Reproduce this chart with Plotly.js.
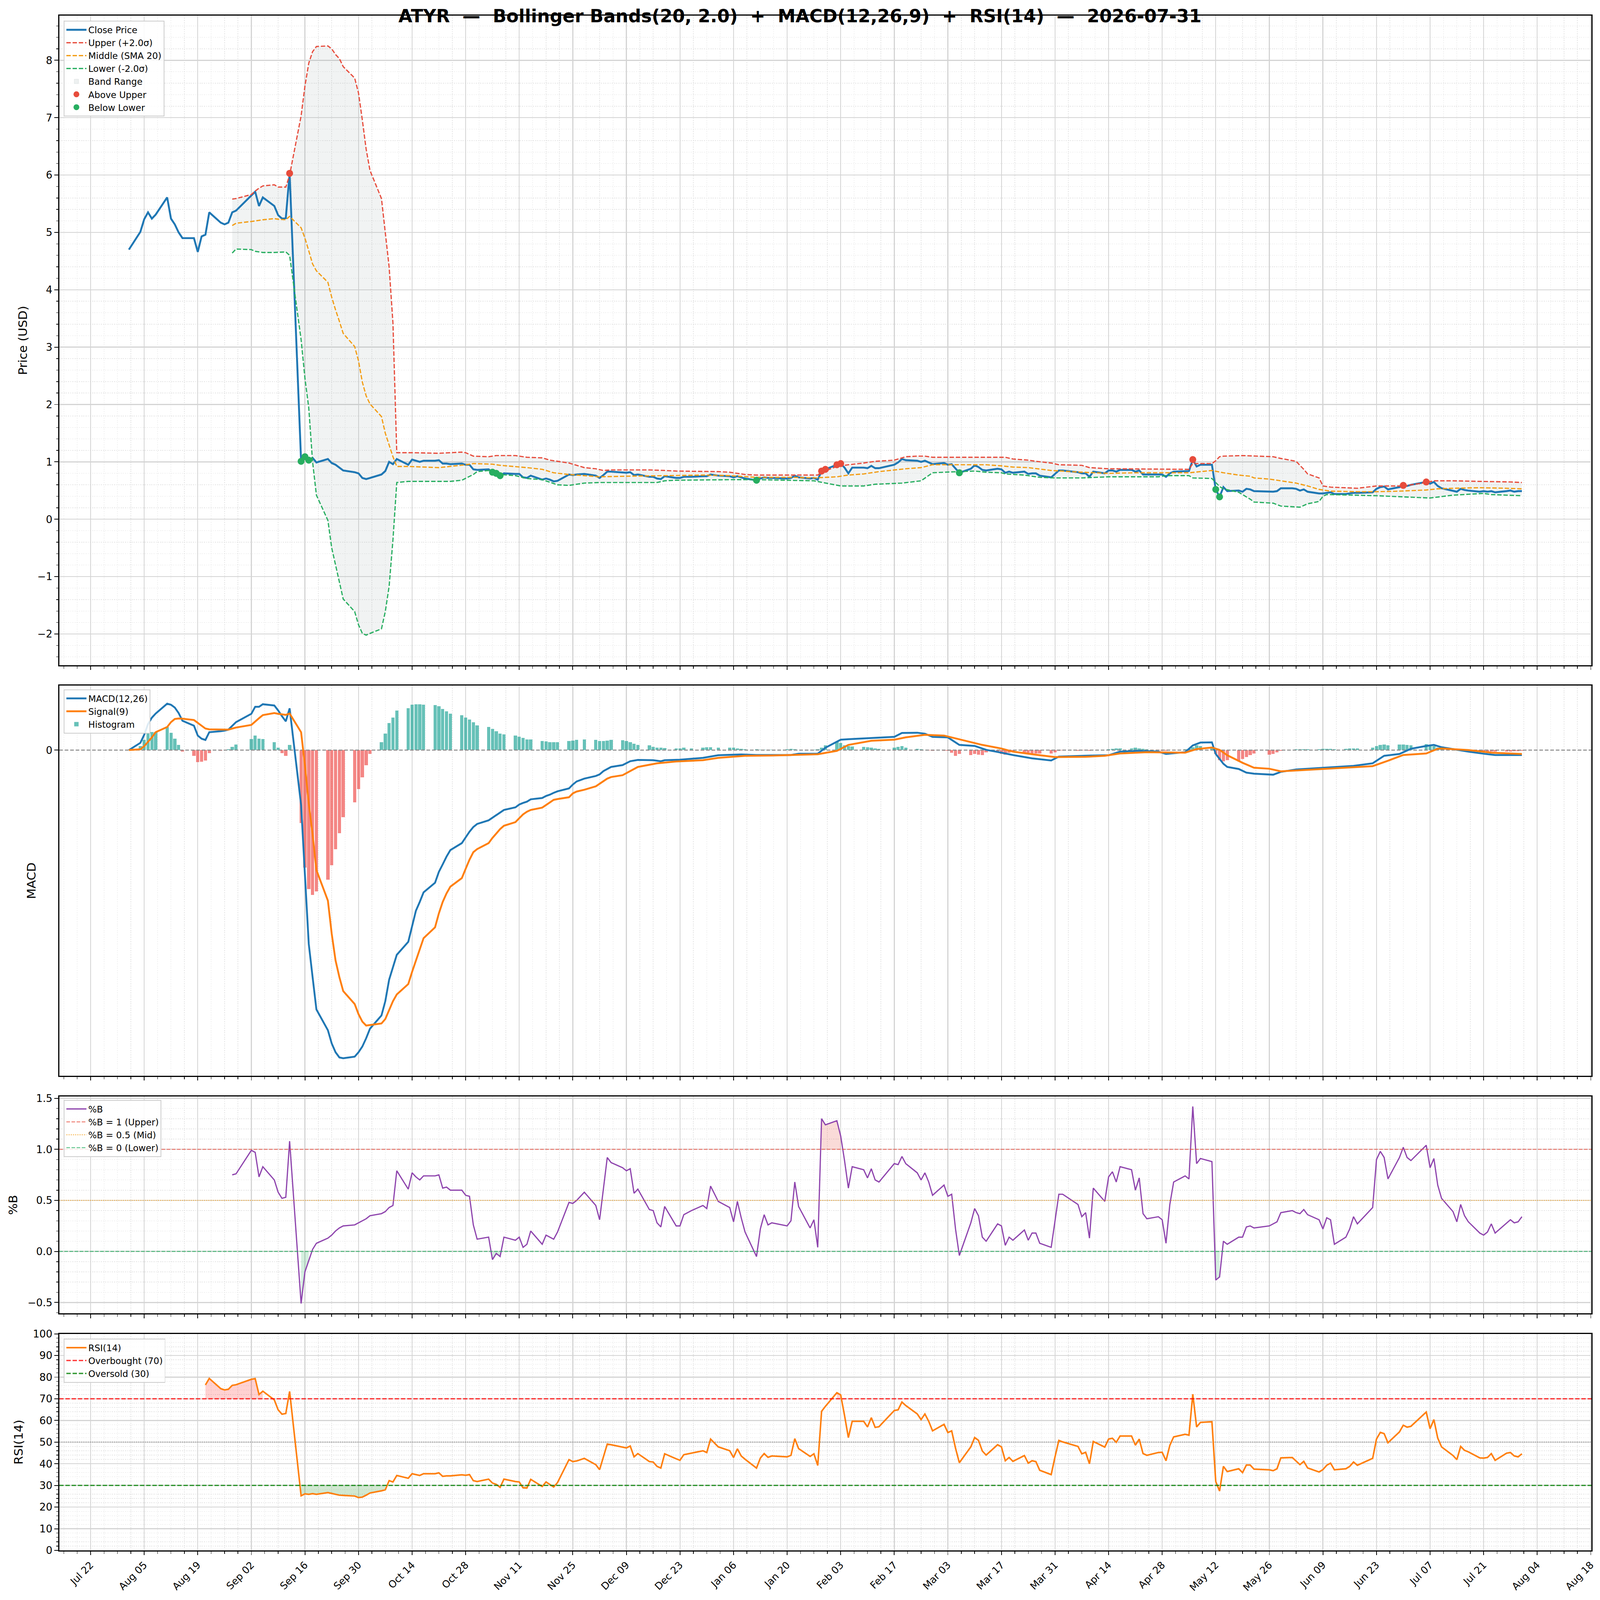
<!DOCTYPE html>
<html><head><meta charset="utf-8">
<script src="https://cdn.plot.ly/plotly-3.0.1.min.js"></script>
<style>html,body{margin:0;padding:0;background:#fff;overflow:hidden}#chart{transform-origin:0 0}</style>
</head><body><div id="chart" style="width:4378px;height:4322px"></div>
<script>
// ---------- DATA ----------
const closeData = [['08-01',4.70],['08-04',5.01],['08-05',5.23],['08-06',5.35],['08-07',5.24],['08-08',5.31],['08-11',5.61],['08-12',5.24],['08-13',5.14],['08-14',5.00],['08-15',4.90],['08-18',4.90],['08-19',4.66],['08-20',4.93],['08-21',4.96],['08-22',5.35],['08-25',5.17],['08-26',5.14],['08-27',5.17],['08-28',5.35],['08-29',5.38],['09-02',5.64],['09-03',5.71],['09-04',5.46],['09-05',5.61],['09-08',5.46],['09-09',5.30],['09-10',5.24],['09-11',5.25],['09-12',6.03],['09-15',1.01],['09-16',1.09],['09-17',1.03],['09-18',1.07],['09-19',0.99],['09-22',1.05],['09-23',0.98],['09-24',0.95],['09-25',0.90],['09-26',0.85],['09-29',0.82],['09-30',0.80],['10-01',0.72],['10-02',0.70],['10-03',0.72],['10-06',0.78],['10-07',0.84],['10-08',1.00],['10-09',0.96],['10-10',1.05],['10-13',0.95],['10-14',1.04],['10-15',1.02],['10-16',1.00],['10-17',1.02],['10-20',1.02],['10-21',1.03],['10-22',0.97],['10-23',0.97],['10-24',0.96],['10-27',0.97],['10-28',0.95],['10-29',0.95],['10-30',0.87],['10-31',0.86],['11-03',0.87],['11-04',0.82],['11-05',0.80],['11-06',0.76],['11-07',0.80],['11-10',0.79],['11-11',0.79],['11-12',0.73],['11-13',0.72],['11-14',0.76],['11-17',0.69],['11-18',0.71],['11-19',0.69],['11-20',0.66],['11-21',0.67],['11-24',0.78],['11-25',0.77],['11-26',0.78],['11-28',0.79],['12-01',0.76],['12-02',0.72],['12-03',0.77],['12-04',0.83],['12-05',0.83],['12-08',0.82],['12-09',0.81],['12-10',0.82],['12-11',0.77],['12-12',0.78],['12-15',0.74],['12-16',0.74],['12-17',0.71],['12-18',0.70],['12-19',0.75],['12-22',0.72],['12-23',0.72],['12-24',0.74],['12-26',0.74],['12-29',0.75],['12-30',0.75],['12-31',0.78],['01-02',0.76],['01-05',0.75],['01-06',0.73],['01-07',0.75],['01-08',0.73],['01-09',0.71],['01-12',0.68],['01-13',0.71],['01-14',0.73],['01-15',0.72],['01-16',0.72],['01-20',0.71],['01-21',0.72],['01-22',0.76],['01-23',0.73],['01-26',0.71],['01-27',0.72],['01-28',0.69],['01-29',0.84],['01-30',0.87],['02-02',0.95],['02-03',0.97],['02-04',0.90],['02-05',0.80],['02-06',0.90],['02-09',0.90],['02-10',0.89],['02-11',0.93],['02-12',0.89],['02-13',0.89],['02-17',0.95],['02-18',0.99],['02-19',1.05],['02-20',1.03],['02-23',1.02],['02-24',1.00],['02-25',1.02],['02-26',0.99],['02-27',0.96],['03-02',0.98],['03-03',0.95],['03-04',0.96],['03-05',0.88],['03-06',0.81],['03-09',0.88],['03-10',0.94],['03-11',0.91],['03-12',0.86],['03-13',0.85],['03-16',0.88],['03-17',0.87],['03-18',0.81],['03-19',0.83],['03-20',0.81],['03-23',0.83],['03-24',0.79],['03-25',0.80],['03-26',0.80],['03-27',0.76],['03-30',0.73],['03-31',0.79],['04-01',0.85],['04-02',0.85],['04-06',0.82],['04-07',0.80],['04-08',0.80],['04-09',0.74],['04-10',0.83],['04-13',0.80],['04-14',0.85],['04-15',0.85],['04-16',0.83],['04-17',0.86],['04-20',0.86],['04-21',0.83],['04-22',0.85],['04-23',0.78],['04-24',0.78],['04-27',0.78],['04-28',0.78],['04-29',0.74],['04-30',0.80],['05-01',0.83],['05-04',0.84],['05-05',0.84],['05-06',1.04],['05-07',0.92],['05-08',0.95],['05-11',0.95],['05-12',0.52],['05-13',0.39],['05-14',0.56],['05-15',0.49],['05-18',0.50],['05-19',0.48],['05-20',0.53],['05-21',0.52],['05-22',0.49],['05-26',0.48],['05-27',0.48],['05-28',0.49],['05-29',0.54],['06-01',0.54],['06-02',0.53],['06-03',0.50],['06-04',0.52],['06-05',0.48],['06-08',0.45],['06-09',0.45],['06-10',0.46],['06-11',0.47],['06-12',0.44],['06-15',0.44],['06-16',0.45],['06-17',0.46],['06-18',0.46],['06-22',0.47],['06-23',0.53],['06-24',0.56],['06-25',0.57],['06-26',0.52],['06-29',0.56],['06-30',0.59],['07-01',0.58],['07-02',0.60],['07-06',0.65],['07-07',0.62],['07-08',0.65],['07-09',0.58],['07-10',0.54],['07-13',0.50],['07-14',0.48],['07-15',0.53],['07-16',0.51],['07-17',0.50],['07-20',0.48],['07-21',0.49],['07-22',0.48],['07-23',0.49],['07-24',0.47],['07-27',0.49],['07-28',0.50],['07-29',0.48],['07-30',0.49],['07-31',0.49]];

const upperData = [['08-28',5.58],['08-29',5.59],['09-02',5.66],['09-03',5.72],['09-04',5.77],['09-05',5.81],['09-08',5.83],['09-09',5.79],['09-10',5.79],['09-11',5.79],['09-12',6.00],['09-15',7.03],['09-16',7.55],['09-17',7.95],['09-18',8.15],['09-19',8.24],['09-22',8.25],['09-23',8.20],['09-24',8.10],['09-25',8.03],['09-26',7.89],['09-29',7.69],['09-30',7.43],['10-01',6.96],['10-02',6.45],['10-03',6.08],['10-06',5.59],['10-07',5.01],['10-08',4.40],['10-09',3.42],['10-10',1.16],['10-13',1.16],['10-14',1.16],['10-21',1.15],['10-27',1.17],['10-28',1.16],['10-30',1.10],['11-03',1.09],['11-05',1.11],['11-10',1.11],['11-13',1.08],['11-17',1.07],['11-19',1.03],['11-24',0.98],['11-28',0.90],['12-01',0.88],['12-03',0.85],['12-05',0.86],['12-15',0.86],['12-19',0.85],['12-22',0.84],['01-02',0.83],['01-05',0.82],['01-09',0.78],['01-12',0.77],['01-28',0.77],['01-29',0.82],['02-02',0.92],['02-05',0.95],['02-09',0.98],['02-12',1.01],['02-17',1.03],['02-20',1.09],['02-23',1.10],['02-25',1.10],['02-27',1.08],['03-13',1.08],['03-18',1.08],['03-20',1.05],['03-24',1.03],['03-26',1.01],['03-30',0.98],['04-01',0.95],['04-07',0.94],['04-09',0.90],['04-14',0.88],['05-05',0.87],['05-06',0.97],['05-11',0.97],['05-12',1.02],['05-13',1.09],['05-14',1.10],['05-19',1.11],['05-27',1.09],['05-29',1.06],['06-02',1.01],['06-03',0.94],['06-04',0.87],['06-05',0.79],['06-08',0.72],['06-09',0.58],['06-11',0.56],['06-18',0.54],['06-23',0.58],['06-30',0.58],['07-06',0.64],['07-08',0.67],['07-13',0.67],['07-20',0.66],['07-28',0.65],['07-31',0.64]];

const middleData = [['08-28',5.12],['08-29',5.16],['09-02',5.19],['09-05',5.22],['09-08',5.24],['09-09',5.23],['09-11',5.22],['09-12',5.28],['09-15',5.08],['09-16',4.90],['09-17',4.68],['09-18',4.45],['09-19',4.33],['09-22',4.13],['09-23',3.87],['09-24',3.65],['09-25',3.45],['09-26',3.24],['09-29',3.01],['09-30',2.76],['10-01',2.39],['10-02',2.15],['10-03',2.01],['10-06',1.79],['10-07',1.50],['10-08',1.30],['10-09',1.09],['10-10',0.92],['10-13',0.92],['10-21',0.90],['10-24',0.92],['10-28',0.95],['10-30',0.97],['11-04',0.96],['11-06',0.94],['11-10',0.92],['11-13',0.90],['11-17',0.87],['11-20',0.81],['11-24',0.78],['11-28',0.76],['12-02',0.74],['12-09',0.75],['12-19',0.76],['12-29',0.77],['01-05',0.76],['01-12',0.73],['01-21',0.73],['01-27',0.72],['02-02',0.74],['02-05',0.77],['02-09',0.79],['02-13',0.83],['02-20',0.88],['02-24',0.90],['02-27',0.95],['03-13',0.95],['03-17',0.93],['03-20',0.91],['03-24',0.90],['03-30',0.85],['04-07',0.82],['04-14',0.80],['04-21',0.81],['05-05',0.81],['05-11',0.85],['05-14',0.81],['05-18',0.77],['05-21',0.75],['05-22',0.72],['05-26',0.70],['05-29',0.67],['06-02',0.63],['06-05',0.58],['06-08',0.52],['06-11',0.49],['06-18',0.48],['06-23',0.48],['06-29',0.49],['07-06',0.51],['07-09',0.53],['07-13',0.54],['07-20',0.55],['07-27',0.54],['07-31',0.53]];

const lowerData = [['08-28',4.64],['08-29',4.71],['09-02',4.70],['09-03',4.67],['09-05',4.65],['09-08',4.65],['09-11',4.66],['09-12',4.60],['09-15',3.13],['09-16',2.46],['09-17',1.94],['09-18',1.00],['09-19',0.42],['09-22',-0.02],['09-23',-0.50],['09-24',-0.80],['09-25',-1.10],['09-26',-1.39],['09-29',-1.61],['09-30',-1.84],['10-01',-1.99],['10-02',-2.02],['10-03',-1.99],['10-06',-1.91],['10-07',-1.61],['10-08',-1.17],['10-09',-0.36],['10-10',0.64],['10-13',0.66],['10-24',0.66],['10-27',0.68],['10-30',0.78],['10-31',0.83],['11-03',0.85],['11-04',0.84],['11-05',0.81],['11-06',0.78],['11-10',0.76],['11-13',0.71],['11-17',0.69],['11-21',0.60],['11-24',0.59],['11-28',0.63],['12-02',0.64],['12-17',0.64],['12-19',0.67],['12-22',0.68],['01-06',0.69],['01-12',0.69],['01-27',0.67],['01-30',0.63],['02-03',0.58],['02-09',0.58],['02-12',0.61],['02-19',0.63],['02-24',0.67],['02-27',0.81],['03-02',0.82],['03-10',0.84],['03-13',0.82],['03-17',0.81],['03-18',0.79],['03-23',0.77],['03-27',0.73],['03-31',0.72],['04-07',0.72],['04-14',0.74],['04-27',0.74],['04-29',0.76],['05-05',0.76],['05-06',0.72],['05-11',0.71],['05-12',0.64],['05-13',0.57],['05-14',0.53],['05-18',0.47],['05-21',0.35],['05-22',0.30],['05-27',0.28],['05-29',0.23],['06-03',0.21],['06-05',0.27],['06-08',0.31],['06-09',0.40],['06-10',0.43],['06-11',0.43],['06-23',0.41],['07-07',0.37],['07-13',0.42],['07-20',0.45],['07-21',0.45],['07-23',0.43],['07-31',0.41]];

const aboveUpperData = [['09-12',6.03],['01-29',0.84],['01-30',0.87],['02-02',0.95],['02-03',0.97],['05-06',1.04],['06-30',0.59],['07-06',0.65]];
const belowLowerData = [['09-15',1.01],['09-16',1.09],['09-17',1.03],['11-04',0.82],['11-05',0.80],['11-06',0.76],['01-12',0.68],['03-06',0.81],['05-12',0.52],['05-13',0.39]];

const macdData = [['08-01',0],['08-04',0.028],['08-05',0.059],['08-06',0.100],['08-07',0.125],['08-08',0.141],['08-11',0.179],['08-12',0.175],['08-13',0.164],['08-14',0.143],['08-15',0.113],['08-18',0.094],['08-19',0.056],['08-20',0.044],['08-21',0.039],['08-22',0.069],['08-25',0.073],['08-26',0.075],['08-27',0.079],['08-28',0.094],['08-29',0.108],['09-02',0.140],['09-03',0.167],['09-04',0.167],['09-05',0.177],['09-08',0.172],['09-09',0.153],['09-10',0.131],['09-11',0.111],['09-12',0.161],['09-15',-0.212],['09-16',-0.482],['09-17',-0.748],['09-18',-0.876],['09-19',-1.001],['09-22',-1.081],['09-23',-1.132],['09-24',-1.166],['09-25',-1.186],['09-26',-1.189],['09-29',-1.183],['09-30',-1.166],['10-01',-1.144],['10-02',-1.112],['10-03',-1.075],['10-06',-1.024],['10-07',-0.969],['10-08',-0.886],['10-09',-0.837],['10-10',-0.790],['10-13',-0.740],['10-14',-0.679],['10-15',-0.620],['10-16',-0.586],['10-17',-0.549],['10-20',-0.512],['10-21',-0.470],['10-22',-0.441],['10-23',-0.411],['10-24',-0.386],['10-27',-0.359],['10-28',-0.337],['10-29',-0.315],['10-30',-0.297],['10-31',-0.285],['11-03',-0.271],['11-04',-0.261],['11-05',-0.251],['11-06',-0.241],['11-07',-0.231],['11-10',-0.221],['11-11',-0.210],['11-12',-0.204],['11-13',-0.199],['11-14',-0.190],['11-17',-0.185],['11-18',-0.177],['11-19',-0.172],['11-20',-0.165],['11-21',-0.159],['11-24',-0.148],['11-25',-0.133],['11-26',-0.121],['11-28',-0.110],['12-01',-0.100],['12-02',-0.094],['12-03',-0.081],['12-04',-0.072],['12-05',-0.065],['12-08',-0.058],['12-10',-0.043],['12-12',-0.038],['12-16',-0.039],['12-18',-0.043],['12-19',-0.039],['12-23',-0.037],['12-26',-0.033],['12-29',-0.030],['01-02',-0.020],['01-05',-0.018],['01-08',-0.017],['01-12',-0.019],['01-16',-0.019],['01-21',-0.019],['01-23',-0.014],['01-28',-0.014],['01-30',0.009],['02-03',0.040],['02-05',0.042],['02-11',0.046],['02-13',0.049],['02-17',0.051],['02-19',0.066],['02-23',0.067],['02-25',0.063],['02-27',0.051],['03-03',0.049],['03-06',0.020],['03-10',0.016],['03-13',0.001],['03-17',-0.010],['03-20',-0.019],['03-25',-0.032],['03-30',-0.040],['04-01',-0.025],['04-06',-0.022],['04-10',-0.021],['04-14',-0.020],['04-17',-0.006],['04-22',-0.003],['04-27',-0.006],['04-29',-0.015],['05-04',-0.008],['05-06',0.018],['05-08',0.029],['05-11',0.030],['05-12',-0.015],['05-13',-0.034],['05-14',-0.053],['05-15',-0.065],['05-18',-0.073],['05-20',-0.087],['05-22',-0.091],['05-27',-0.095],['05-29',-0.084],['06-02',-0.075],['06-08',-0.070],['06-12',-0.065],['06-17',-0.061],['06-22',-0.051],['06-25',-0.022],['06-29',-0.015],['07-02',0.005],['07-06',0.016],['07-08',0.020],['07-10',0.011],['07-14',0.001],['07-17',-0.006],['07-21',-0.014],['07-24',-0.019],['07-31',-0.019]];

const signalData = [['08-01',0],['08-04',0.003],['08-05',0.015],['08-06',0.031],['08-07',0.049],['08-08',0.069],['08-11',0.089],['08-12',0.108],['08-13',0.120],['08-14',0.122],['08-15',0.121],['08-18',0.116],['08-19',0.105],['08-20',0.094],['08-21',0.083],['08-22',0.080],['08-25',0.079],['08-26',0.078],['08-27',0.079],['08-28',0.083],['08-29',0.087],['09-02',0.097],['09-03',0.111],['09-04',0.123],['09-05',0.135],['09-08',0.143],['09-09',0.140],['09-10',0.138],['09-11',0.136],['09-12',0.141],['09-15',0.069],['09-16',-0.059],['09-17',-0.207],['09-18',-0.325],['09-19',-0.463],['09-22',-0.581],['09-23',-0.709],['09-24',-0.812],['09-25',-0.876],['09-26',-0.930],['09-29',-0.980],['09-30',-1.019],['10-01',-1.048],['10-02',-1.063],['10-03',-1.061],['10-06',-1.055],['10-07',-1.038],['10-08',-1.004],['10-09',-0.969],['10-10',-0.943],['10-13',-0.903],['10-14',-0.856],['10-15',-0.812],['10-16',-0.766],['10-17',-0.726],['10-20',-0.684],['10-21',-0.630],['10-22',-0.586],['10-23',-0.553],['10-24',-0.527],['10-27',-0.494],['10-28',-0.458],['10-29',-0.423],['10-30',-0.394],['10-31',-0.382],['11-03',-0.359],['11-04',-0.339],['11-05',-0.322],['11-06',-0.305],['11-07',-0.292],['11-10',-0.278],['11-11',-0.263],['11-12',-0.248],['11-13',-0.238],['11-14',-0.231],['11-17',-0.222],['11-18',-0.211],['11-19',-0.202],['11-20',-0.192],['11-21',-0.189],['11-24',-0.182],['11-25',-0.167],['11-26',-0.160],['11-28',-0.153],['12-01',-0.140],['12-02',-0.130],['12-03',-0.120],['12-04',-0.110],['12-05',-0.104],['12-08',-0.097],['12-12',-0.065],['12-17',-0.051],['12-22',-0.044],['12-29',-0.039],['01-02',-0.030],['01-09',-0.022],['01-16',-0.021],['01-23',-0.019],['01-28',-0.016],['02-02',-0.003],['02-05',0.020],['02-11',0.036],['02-17',0.040],['02-20',0.049],['02-25',0.059],['03-02',0.056],['03-06',0.042],['03-12',0.020],['03-17',0.006],['03-20',-0.006],['03-26',-0.018],['03-31',-0.027],['04-08',-0.026],['04-13',-0.022],['04-17',-0.013],['04-24',-0.008],['05-04',-0.010],['05-07',0.004],['05-11',0.010],['05-13',0.001],['05-15',-0.020],['05-19',-0.049],['05-22',-0.068],['05-26',-0.072],['05-29',-0.082],['06-04',-0.077],['06-11',-0.070],['06-22',-0.062],['06-26',-0.041],['06-30',-0.019],['07-06',-0.013],['07-09',0.005],['07-10',0.006],['07-17',0.000],['07-23',-0.010],['07-31',-0.015]];

const histData = [['08-01',0],['08-04',0.015],['08-05',0.039],['08-06',0.064],['08-07',0.069],['08-08',0.069],['08-11',0.089],['08-12',0.067],['08-13',0.044],['08-14',0.020],['08-15',-0.005],['08-18',-0.023],['08-19',-0.047],['08-20',-0.045],['08-21',-0.040],['08-22',-0.012],['08-25',-0.002],['08-26',0.000],['08-27',0.003],['08-28',0.013],['08-29',0.022],['09-02',0.043],['09-03',0.056],['09-04',0.044],['09-05',0.043],['09-08',0.030],['09-09',0.009],['09-10',-0.011],['09-11',-0.022],['09-12',0.020],['09-15',-0.281],['09-16',-0.453],['09-17',-0.537],['09-18',-0.559],['09-19',-0.546],['09-22',-0.500],['09-23',-0.445],['09-24',-0.382],['09-25',-0.320],['09-26',-0.259],['09-29',-0.202],['09-30',-0.150],['10-01',-0.105],['10-02',-0.059],['10-03',-0.015],['10-06',0.030],['10-07',0.064],['10-08',0.104],['10-09',0.126],['10-10',0.153],['10-13',0.162],['10-14',0.175],['10-15',0.177],['10-16',0.176],['10-17',0.175],['10-20',0.173],['10-21',0.169],['10-22',0.159],['10-23',0.150],['10-24',0.141],['10-27',0.134],['10-28',0.126],['10-29',0.118],['10-30',0.108],['10-31',0.095],['11-03',0.089],['11-04',0.081],['11-05',0.073],['11-06',0.064],['11-07',0.061],['11-10',0.056],['11-11',0.052],['11-12',0.047],['11-13',0.041],['11-14',0.041],['11-17',0.035],['11-18',0.033],['11-19',0.031],['11-20',0.030],['11-21',0.030],['11-24',0.035],['11-25',0.037],['11-26',0.039],['11-28',0.041],['12-01',0.039],['12-02',0.035],['12-03',0.035],['12-04',0.036],['12-05',0.039],['12-08',0.038],['12-09',0.035],['12-10',0.030],['12-11',0.025],['12-12',0.020],['12-15',0.018],['12-16',0.012],['12-17',0.010],['12-18',0.009],['12-19',0.008],['12-22',0.007],['12-23',0.007],['12-24',0.009],['12-26',0.006],['12-29',0.010],['12-30',0.011],['12-31',0.011],['01-02',0.009],['01-05',0.010],['01-06',0.009],['01-07',0.006],['01-08',0.005],['01-09',0.004],['01-12',0.003],['01-13',0.002],['01-14',0.002],['01-15',0.002],['01-16',0.002],['01-20',0.004],['01-21',0.005],['01-22',0.003],['01-23',0.001],['01-26',0.001],['01-27',0.002],['01-28',0.004],['01-29',0.009],['01-30',0.018],['02-02',0.032],['02-03',0.028],['02-04',0.019],['02-05',0.016],['02-06',0.014],['02-09',0.012],['02-10',0.011],['02-11',0.009],['02-12',0.006],['02-13',0.005],['02-17',0.010],['02-18',0.013],['02-19',0.016],['02-20',0.009],['02-23',0.005],['02-24',0.003],['02-25',0.001],['02-26',-0.001],['02-27',-0.003],['03-02',-0.002],['03-03',-0.003],['03-04',-0.010],['03-05',-0.022],['03-06',-0.015],['03-09',-0.019],['03-10',-0.015],['03-11',-0.018],['03-12',-0.020],['03-13',-0.008],['03-16',-0.006],['03-17',-0.015],['03-18',-0.018],['03-19',-0.010],['03-20',-0.006],['03-23',-0.010],['03-24',-0.013],['03-25',-0.015],['03-26',-0.013],['03-27',-0.013],['03-30',-0.013],['03-31',-0.008],['04-01',-0.003],['04-02',-0.001],['04-06',-0.002],['04-07',-0.001],['04-08',-0.001],['04-09',-0.002],['04-10',0.000],['04-13',0.001],['04-14',0.003],['04-15',0.005],['04-16',0.006],['04-17',0.006],['04-20',0.006],['04-21',0.009],['04-22',0.006],['04-23',0.005],['04-24',0.003],['04-27',-0.001],['04-28',-0.002],['04-29',-0.003],['04-30',0.000],['05-01',0.001],['05-04',0.004],['05-05',0.005],['05-06',0.011],['05-07',0.018],['05-08',0.016],['05-11',0.011],['05-12',-0.015],['05-13',-0.039],['05-14',-0.044],['05-15',-0.039],['05-18',-0.041],['05-19',-0.034],['05-20',-0.027],['05-21',-0.020],['05-22',-0.013],['05-26',-0.018],['05-27',-0.015],['05-28',-0.008],['05-29',-0.003],['06-01',0.001],['06-02',0.003],['06-03',0.004],['06-04',0.004],['06-05',0.003],['06-08',0.004],['06-09',0.005],['06-10',0.005],['06-11',0.005],['06-12',0.004],['06-15',0.005],['06-16',0.006],['06-17',0.006],['06-18',0.006],['06-22',0.009],['06-23',0.016],['06-24',0.020],['06-25',0.022],['06-26',0.018],['06-29',0.022],['06-30',0.022],['07-01',0.020],['07-02',0.018],['07-06',0.023],['07-07',0.020],['07-08',0.016],['07-09',0.009],['07-10',0.006],['07-13',0.003],['07-14',0.001],['07-15',0.000],['07-16',-0.001],['07-17',-0.002],['07-20',-0.003],['07-21',-0.004],['07-22',-0.005],['07-23',-0.006],['07-24',-0.006],['07-27',-0.005],['07-28',-0.005],['07-29',-0.004],['07-30',-0.004],['07-31',-0.003]];

const pctBData = [['08-28',0.75],['08-29',0.76],['09-02',0.99],['09-03',0.97],['09-04',0.73],['09-05',0.83],['09-08',0.70],['09-09',0.58],['09-10',0.52],['09-11',0.53],['09-12',1.08],['09-15',-0.51],['09-16',-0.20],['09-17',-0.09],['09-18',0.02],['09-19',0.08],['09-22',0.13],['09-23',0.16],['09-24',0.20],['09-25',0.23],['09-26',0.25],['09-29',0.26],['09-30',0.28],['10-01',0.30],['10-02',0.32],['10-03',0.35],['10-06',0.37],['10-07',0.39],['10-08',0.43],['10-09',0.45],['10-10',0.79],['10-13',0.61],['10-14',0.77],['10-15',0.73],['10-16',0.70],['10-17',0.74],['10-20',0.74],['10-21',0.75],['10-22',0.62],['10-23',0.63],['10-24',0.60],['10-27',0.60],['10-28',0.55],['10-29',0.54],['10-30',0.26],['10-31',0.12],['11-03',0.14],['11-04',-0.08],['11-05',-0.02],['11-06',-0.05],['11-07',0.14],['11-10',0.11],['11-11',0.14],['11-12',0.04],['11-13',0.07],['11-14',0.20],['11-17',0.07],['11-18',0.16],['11-19',0.14],['11-20',0.12],['11-21',0.19],['11-24',0.48],['11-25',0.47],['11-26',0.50],['11-28',0.58],['12-01',0.45],['12-02',0.31],['12-03',0.62],['12-04',0.92],['12-05',0.87],['12-08',0.82],['12-09',0.79],['12-10',0.81],['12-11',0.57],['12-12',0.61],['12-15',0.41],['12-16',0.40],['12-17',0.28],['12-18',0.24],['12-19',0.44],['12-22',0.25],['12-23',0.25],['12-24',0.36],['12-26',0.40],['12-29',0.45],['12-30',0.42],['12-31',0.64],['01-02',0.49],['01-05',0.43],['01-06',0.29],['01-07',0.49],['01-08',0.33],['01-09',0.19],['01-12',-0.05],['01-13',0.22],['01-14',0.36],['01-15',0.26],['01-16',0.28],['01-20',0.25],['01-21',0.30],['01-22',0.68],['01-23',0.44],['01-26',0.23],['01-27',0.31],['01-28',0.04],['01-29',1.30],['01-30',1.24],['02-02',1.28],['02-03',1.13],['02-04',0.89],['02-05',0.62],['02-06',0.83],['02-09',0.80],['02-10',0.72],['02-11',0.81],['02-12',0.70],['02-13',0.68],['02-17',0.86],['02-18',0.85],['02-19',0.93],['02-20',0.86],['02-23',0.77],['02-24',0.70],['02-25',0.77],['02-26',0.68],['02-27',0.55],['03-02',0.65],['03-03',0.54],['03-04',0.56],['03-05',0.22],['03-06',-0.04],['03-09',0.28],['03-10',0.42],['03-11',0.35],['03-12',0.14],['03-13',0.10],['03-16',0.27],['03-17',0.25],['03-18',0.06],['03-19',0.14],['03-20',0.11],['03-23',0.21],['03-24',0.11],['03-25',0.18],['03-26',0.18],['03-27',0.08],['03-30',0.04],['03-31',0.30],['04-01',0.56],['04-02',0.56],['04-06',0.46],['04-07',0.34],['04-08',0.38],['04-09',0.13],['04-10',0.62],['04-13',0.49],['04-14',0.73],['04-15',0.78],['04-16',0.68],['04-17',0.83],['04-20',0.80],['04-21',0.60],['04-22',0.72],['04-23',0.37],['04-24',0.32],['04-27',0.34],['04-28',0.31],['04-29',0.08],['04-30',0.46],['05-01',0.68],['05-04',0.74],['05-05',0.71],['05-06',1.42],['05-07',0.86],['05-08',0.91],['05-11',0.88],['05-12',-0.28],['05-13',-0.25],['05-14',0.10],['05-15',0.07],['05-18',0.14],['05-19',0.14],['05-20',0.24],['05-21',0.25],['05-22',0.23],['05-26',0.25],['05-27',0.27],['05-28',0.29],['05-29',0.38],['06-01',0.40],['06-02',0.38],['06-03',0.37],['06-04',0.41],['06-05',0.36],['06-08',0.31],['06-09',0.22],['06-10',0.33],['06-11',0.31],['06-12',0.07],['06-15',0.14],['06-16',0.22],['06-17',0.34],['06-18',0.27],['06-22',0.43],['06-23',0.90],['06-24',0.98],['06-25',0.92],['06-26',0.71],['06-29',0.92],['06-30',1.02],['07-01',0.92],['07-02',0.89],['07-06',1.04],['07-07',0.82],['07-08',0.91],['07-09',0.65],['07-10',0.52],['07-13',0.39],['07-14',0.29],['07-15',0.46],['07-16',0.35],['07-17',0.29],['07-20',0.18],['07-21',0.16],['07-22',0.19],['07-23',0.27],['07-24',0.18],['07-27',0.28],['07-28',0.31],['07-29',0.28],['07-30',0.29],['07-31',0.34]];

const rsiData = [['08-21',76.4],['08-22',79.4],['08-25',74.7],['08-26',74.1],['08-27',74.4],['08-28',76.2],['08-29',76.5],['09-02',79.0],['09-03',79.3],['09-04',72.0],['09-05',73.5],['09-08',69.5],['09-09',64.9],['09-10',62.9],['09-11',63.2],['09-12',73.4],['09-15',25.2],['09-16',26.1],['09-17',25.9],['09-18',26.2],['09-19',25.9],['09-22',26.7],['09-23',26.3],['09-24',25.9],['09-25',25.5],['09-26',25.4],['09-29',25.1],['09-30',24.4],['10-01',24.6],['10-02',25.5],['10-03',26.5],['10-06',27.5],['10-07',28.0],['10-08',32.2],['10-09',31.6],['10-10',34.6],['10-13',33.3],['10-14',35.4],['10-15',35.0],['10-16',34.6],['10-17',35.4],['10-20',35.4],['10-21',35.8],['10-22',34.2],['10-23',34.4],['10-24',34.4],['10-27',34.9],['10-28',34.7],['10-29',35.0],['10-30',32.2],['10-31',31.8],['11-03',32.9],['11-04',31.1],['11-05',30.5],['11-06',29.1],['11-07',32.9],['11-10',31.8],['11-11',31.6],['11-12',28.9],['11-13',28.8],['11-14',32.8],['11-17',29.5],['11-18',31.6],['11-19',30.5],['11-20',29.3],['11-21',31.3],['11-24',41.9],['11-25',41.0],['11-26',41.3],['11-28',42.5],['12-01',39.6],['12-02',37.3],['12-03',43.2],['12-04',49.1],['12-05',48.8],['12-08',47.8],['12-09',47.3],['12-10',48.2],['12-11',43.2],['12-12',44.7],['12-15',41.0],['12-16',40.8],['12-17',38.8],['12-18',38.0],['12-19',44.6],['12-22',42.3],['12-23',41.6],['12-24',44.2],['12-26',44.9],['12-29',46.0],['12-30',45.2],['12-31',51.4],['01-02',47.8],['01-05',46.0],['01-06',42.9],['01-07',46.9],['01-08',43.6],['01-09',42.1],['01-12',38.0],['01-13',42.6],['01-14',44.7],['01-15',43.0],['01-16',43.6],['01-20',43.2],['01-21',43.9],['01-22',51.6],['01-23',47.0],['01-26',43.4],['01-27',44.6],['01-28',39.2],['01-29',64.2],['01-30',66.5],['02-02',72.8],['02-03',71.8],['02-04',62.3],['02-05',52.1],['02-06',59.6],['02-09',59.6],['02-10',57.0],['02-11',61.3],['02-12',56.8],['02-13',57.1],['02-17',64.6],['02-18',64.9],['02-19',68.5],['02-20',66.9],['02-23',63.0],['02-24',60.4],['02-25',63.0],['02-26',59.6],['02-27',55.2],['03-02',58.2],['03-03',54.4],['03-04',55.2],['03-05',47.2],['03-06',40.5],['03-09',47.8],['03-10',52.1],['03-11',50.8],['03-12',45.9],['03-13',44.0],['03-16',48.8],['03-17',47.8],['03-18',41.4],['03-19',42.9],['03-20',41.1],['03-23',43.8],['03-24',40.3],['03-25',41.4],['03-26',41.0],['03-27',37.0],['03-30',35.0],['03-31',43.2],['04-01',50.8],['04-02',50.1],['04-06',48.0],['04-07',44.6],['04-08',45.3],['04-09',40.0],['04-10',50.3],['04-13',47.7],['04-14',51.4],['04-15',51.8],['04-16',49.9],['04-17',52.8],['04-20',52.8],['04-21',48.6],['04-22',51.4],['04-23',44.7],['04-24',43.9],['04-27',45.2],['04-28',45.3],['04-29',41.4],['04-30',48.5],['05-01',52.4],['05-04',53.6],['05-05',53.2],['05-06',72.1],['05-07',57.0],['05-08',59.1],['05-11',59.4],['05-12',31.8],['05-13',27.4],['05-14',38.8],['05-15',36.4],['05-18',37.7],['05-19',35.9],['05-20',39.4],['05-21',39.4],['05-22',37.5],['05-26',37.2],['05-27',36.8],['05-28',37.7],['05-29',42.7],['06-01',42.9],['06-02',41.3],['06-03',39.6],['06-04',41.1],['06-05',38.1],['06-08',36.2],['06-09',37.3],['06-10',39.3],['06-11',40.3],['06-12',37.2],['06-15',37.7],['06-16',38.8],['06-17',40.8],['06-18',39.3],['06-22',42.5],['06-23',51.4],['06-24',54.5],['06-25',53.9],['06-26',49.7],['06-29',54.7],['06-30',57.8],['07-01',56.9],['07-02',57.3],['07-06',63.9],['07-07',56.2],['07-08',60.4],['07-09',51.9],['07-10',47.8],['07-13',43.8],['07-14',41.9],['07-15',48.0],['07-16',46.2],['07-17',45.5],['07-20',42.7],['07-21',42.6],['07-22',42.9],['07-23',44.7],['07-24',41.6],['07-27',44.9],['07-28',45.2],['07-29',43.6],['07-30',43.2],['07-31',44.6]];

// ---------- helpers ----------
const W = 4378, H = 4322;
const X0 = '2025-07-13 19:00', X1 = '2026-08-18 05:00';
const DAY = 86400000;
function dt(s){ const m = +s.slice(0,2); return (m >= 8 ? '2025-' : '2026-') + s; }
const xs = a => a.map(p => dt(p[0]));
const ys = a => a.map(p => p[1]);

// fit the 4378x4322 figure into the actual viewport
(function fit(){
  const el = document.getElementById('chart');
  const sx = (window.innerWidth || W) / W, sy = (window.innerHeight || H) / H;
  if (Math.abs(sx - 1) > 0.002 || Math.abs(sy - 1) > 0.002) el.style.transform = 'scale(' + sx + ',' + sy + ')';
})();

// fill_between(where=...) style polygons for runs of consecutive points beyond a threshold
function runFills(data, thr, above, color, xa, ya){
  const out = []; let run = [];
  const flush = () => {
    if (run.length >= 2) {
      const x = run.map(p => dt(p[0])), y = run.map(p => p[1]);
      out.push({x: x.concat(x.slice().reverse()), y: y.concat(run.map(() => thr)),
        xaxis: xa, yaxis: ya, mode: 'lines', fill: 'toself', fillcolor: color,
        line: {width: 0}, showlegend: false, hoverinfo: 'skip'});
    }
    run = [];
  };
  data.forEach(p => { if (above ? p[1] > thr : p[1] < thr) run.push(p); else flush(); });
  flush();
  return out;
}
function hline(y, xa, ya, color, dash, width, name, legend){
  return {x: [X0, X1], y: [y, y], xaxis: xa, yaxis: ya, mode: 'lines',
    line: {color, dash, width}, name: name || '', showlegend: !!name, legend, hoverinfo: 'skip'};
}

const traces = [];
// ---- Price panel ----
traces.push({x: xs(lowerData), y: ys(lowerData), xaxis: 'x', yaxis: 'y', mode: 'lines',
  line: {width: 0}, showlegend: false, hoverinfo: 'skip'});
traces.push({x: xs(upperData), y: ys(upperData), xaxis: 'x', yaxis: 'y', mode: 'lines',
  fill: 'tonexty', fillcolor: 'rgba(149,165,166,0.13)', line: {width: 0},
  showlegend: false, hoverinfo: 'skip'});
// legend-only patch for the band fill
traces.push({type: 'bar', x: [null], y: [null], xaxis: 'x', yaxis: 'y',
  marker: {color: 'rgba(149,165,166,0.16)', line: {color: 'rgba(149,165,166,0.25)', width: 1}},
  name: 'Band Range', legend: 'legend', legendrank: 5});
traces.push({x: xs(closeData), y: ys(closeData), xaxis: 'x', yaxis: 'y', mode: 'lines',
  line: {color: '#1f77b4', width: 5.2}, name: 'Close Price', legend: 'legend', legendrank: 1});
traces.push({x: xs(upperData), y: ys(upperData), xaxis: 'x', yaxis: 'y', mode: 'lines',
  line: {color: '#e74c3c', width: 3.3, dash: '12px,5px'}, name: 'Upper (+2.0σ)', legend: 'legend', legendrank: 2});
traces.push({x: xs(middleData), y: ys(middleData), xaxis: 'x', yaxis: 'y', mode: 'lines',
  line: {color: '#f39c12', width: 3.3, dash: '12px,5px'}, name: 'Middle (SMA 20)', legend: 'legend', legendrank: 3});
traces.push({x: xs(lowerData), y: ys(lowerData), xaxis: 'x', yaxis: 'y', mode: 'lines',
  line: {color: '#27ae60', width: 3.3, dash: '12px,5px'}, name: 'Lower (-2.0σ)', legend: 'legend', legendrank: 4});
traces.push({x: xs(aboveUpperData), y: ys(aboveUpperData), xaxis: 'x', yaxis: 'y', mode: 'markers',
  marker: {color: '#e74c3c', size: 19}, name: 'Above Upper', legend: 'legend', legendrank: 6});
traces.push({x: xs(belowLowerData), y: ys(belowLowerData), xaxis: 'x', yaxis: 'y', mode: 'markers',
  marker: {color: '#27ae60', size: 19}, name: 'Below Lower', legend: 'legend', legendrank: 7});

// ---- MACD panel ----
traces.push({type: 'bar', x: xs(histData), y: ys(histData), xaxis: 'x2', yaxis: 'y2',
  width: 0.85 * DAY, marker: {color: ys(histData).map(v => v >= 0 ? 'rgba(38,166,154,0.7)' : 'rgba(239,83,80,0.7)'), line: {width: 0}},
  name: 'Histogram', legend: 'legend2', legendrank: 3});
traces.push(hline(0, 'x2', 'y2', '#888888', '10px,5px', 2.8));
traces.push({x: xs(macdData), y: ys(macdData), xaxis: 'x2', yaxis: 'y2', mode: 'lines',
  line: {color: '#1f77b4', width: 5}, name: 'MACD(12,26)', legend: 'legend2', legendrank: 1});
traces.push({x: xs(signalData), y: ys(signalData), xaxis: 'x2', yaxis: 'y2', mode: 'lines',
  line: {color: '#ff7f0e', width: 5}, name: 'Signal(9)', legend: 'legend2', legendrank: 2});

// ---- %B panel ----
runFills(pctBData, 1, true, 'rgba(231,76,60,0.2)', 'x3', 'y3').forEach(t => traces.push(t));
runFills(pctBData, 0, false, 'rgba(39,174,96,0.2)', 'x3', 'y3').forEach(t => traces.push(t));
traces.push({x: xs(pctBData), y: ys(pctBData), xaxis: 'x3', yaxis: 'y3', mode: 'lines',
  line: {color: '#8e44ad', width: 3.3}, name: '%B', legend: 'legend3', legendrank: 1});
traces.push(hline(1, 'x3', 'y3', 'rgba(231,76,60,0.7)', '10px,4px', 2.8, '%B = 1 (Upper)', 'legend3'));
traces.push(hline(0.5, 'x3', 'y3', 'rgba(243,156,18,0.7)', '3px,3px', 2.8, '%B = 0.5 (Mid)', 'legend3'));
traces.push(hline(0, 'x3', 'y3', 'rgba(39,174,96,0.7)', '10px,4px', 2.8, '%B = 0 (Lower)', 'legend3'));

// ---- RSI panel ----
runFills(rsiData, 70, true, 'rgba(255,0,0,0.18)', 'x4', 'y4').forEach(t => traces.push(t));
runFills(rsiData, 30, false, 'rgba(0,128,0,0.18)', 'x4', 'y4').forEach(t => traces.push(t));
traces.push(hline(50, 'x4', 'y4', 'rgba(128,128,128,0.7)', '3px,3px', 2.5));
traces.push({x: xs(rsiData), y: ys(rsiData), xaxis: 'x4', yaxis: 'y4', mode: 'lines',
  line: {color: '#ff7f0e', width: 4.2}, name: 'RSI(14)', legend: 'legend4', legendrank: 1});
traces.push(hline(70, 'x4', 'y4', 'rgba(255,0,0,0.8)', '12px,5px', 3.5, 'Overbought (70)', 'legend4'));
traces.push(hline(30, 'x4', 'y4', 'rgba(0,128,0,0.8)', '12px,5px', 3.5, 'Oversold (30)', 'legend4'));

// ---------- layout ----------
const FONT = 'DejaVu Sans';
function xAxis(anchor, labels){
  return {type: 'date', range: [X0, X1], anchor, tick0: '2025-07-22', dtick: 14 * DAY,
    tickformat: '%b %d', tickangle: -45, showticklabels: labels,
    ticks: 'outside', ticklen: 10, tickwidth: 2, tickcolor: '#000',
    showline: true, linecolor: '#000', linewidth: 3, mirror: true,
    showgrid: true, gridcolor: '#d4d4d4', gridwidth: 2.5, zeroline: false,
    tickfont: {size: 27, family: FONT, color: '#000'},
    minor: {tick0: '2025-07-22', dtick: 3.5 * DAY, ticks: 'outside', ticklen: 6, tickwidth: 1.5,
      tickcolor: '#000', showgrid: true, gridcolor: '#e4e4e4', gridwidth: 1.5, griddash: 'dot'}};
}
function yAxis(domain, range, dtick, minor, title, extra){
  return Object.assign({domain, range, dtick, tick0: 0,
    ticks: 'outside', ticklen: 10, tickwidth: 2, tickcolor: '#000',
    showline: true, linecolor: '#000', linewidth: 3, mirror: true,
    showgrid: true, gridcolor: '#d4d4d4', gridwidth: 2.5, zeroline: false,
    tickfont: {size: 28, family: FONT, color: '#000'},
    title: {text: title, font: {size: 33, family: FONT, color: '#000'}, standoff: 18},
    minor: minor ? {dtick: minor, ticks: 'outside', ticklen: 5, tickwidth: 1.5, tickcolor: '#000',
      showgrid: true, gridcolor: '#e4e4e4', gridwidth: 1.5, griddash: 'dot'} : undefined}, extra || {});
}
function legendBox(y){
  return {x: 0.003, y, xref: 'paper', yref: 'paper', xanchor: 'left', yanchor: 'top',
    bgcolor: 'rgba(255,255,255,0.85)', bordercolor: '#cccccc', borderwidth: 2,
    font: {size: 24.5, family: FONT, color: '#000'}, itemwidth: 55, tracegroupgap: 0, traceorder: 'normal'};
}

const layout = {
  width: W, height: H,
  margin: {l: 162, r: 23, t: 42, b: 134},
  paper_bgcolor: '#ffffff', plot_bgcolor: '#ffffff',
  font: {family: FONT, color: '#000'},
  title: {text: 'ATYR\u00a0\u00a0—\u00a0\u00a0Bollinger Bands(20, 2.0)\u00a0\u00a0+\u00a0\u00a0MACD(12,26,9)\u00a0\u00a0+\u00a0\u00a0RSI(14)\u00a0\u00a0—\u00a0\u00a02026-07-31',
    font: {size: 49, family: FONT, weight: 'bold', color: '#000'},
    x: 0.5, xanchor: 'center', xref: 'container', y: 0.9900, yref: 'container', yanchor: 'middle'},
  showlegend: true,
  bargap: 0,
  xaxis: xAxis('y', false),
  xaxis2: xAxis('y2', false),
  xaxis3: xAxis('y3', false),
  xaxis4: xAxis('y4', true),
  yaxis: yAxis([0.5767, 1], [-2.545, 8.78], 1, 0.2, 'Price (USD)'),
  yaxis2: yAxis([0.3092, 0.5634], [-1.257, 0.2486], null, null, 'MACD',
    {tickmode: 'array', tickvals: [0], ticktext: ['0'], showgrid: false}),
  yaxis3: yAxis([0.1544, 0.2957], [-0.607, 1.517], 0.5, 0.1, '%B', {tickformat: '.1f'}),
  yaxis4: yAxis([0, 0.1411], [0, 100], 10, 2, 'RSI(14)'),
  legend: legendBox(0.9966),
  legend2: legendBox(0.5610),
  legend3: legendBox(0.2935),
  legend4: legendBox(0.1380)
};

Plotly.newPlot('chart', traces, layout, {displayModeBar: false, staticPlot: true});
</script></body></html>
